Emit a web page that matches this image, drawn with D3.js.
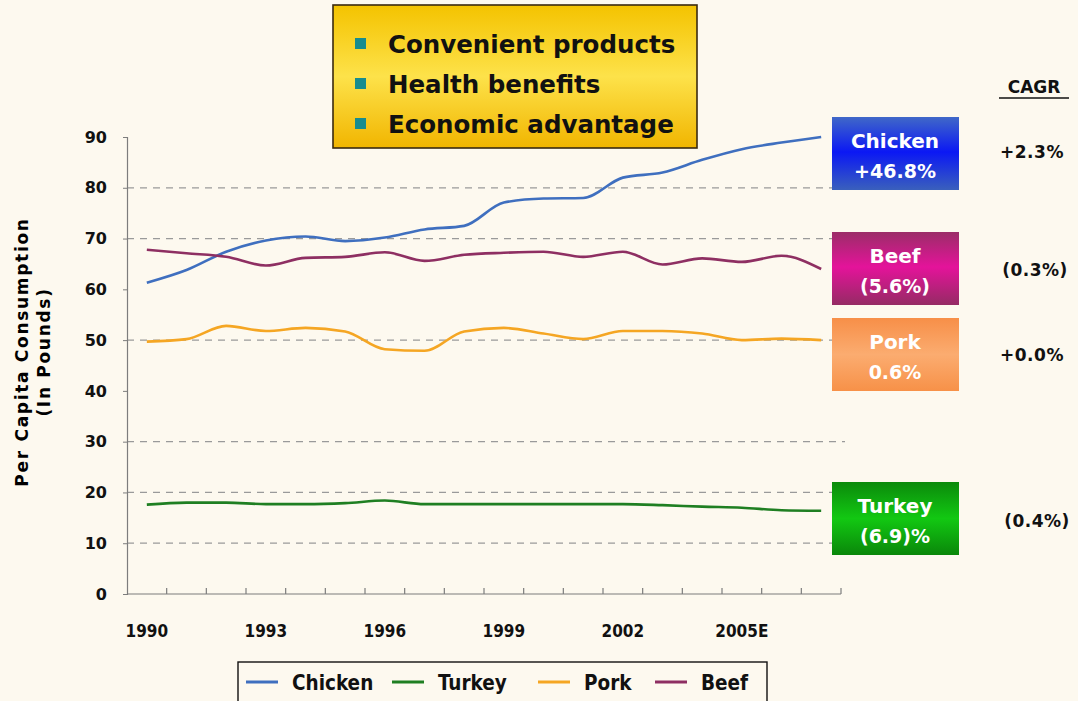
<!DOCTYPE html>
<html>
<head>
<meta charset="utf-8">
<script src="https://cdn.jsdelivr.net/npm/d3@7"></script>
<style>
  html, body { margin: 0; padding: 0; background: #fdf9ef; }
  svg { display: block; }
  .cond { font-family: "DejaVu Sans Condensed", "Liberation Sans Narrow", "Arial Narrow", sans-serif; font-weight: bold; }
  .sans { font-family: "DejaVu Sans", Verdana, "Liberation Sans", Arial, sans-serif; font-weight: bold; }
</style>
</head>
<body>
<script>
// Per capita meat consumption, pounds per person
const years   = [1990, 1991, 1992, 1993, 1994, 1995, 1996, 1997, 1998, 1999, 2000, 2001, 2002, 2003, 2004, 2005, 2006, 2007];
const chicken = [61.3, 63.8, 67.4, 69.6, 70.4, 69.5, 70.2, 71.8, 72.5, 77.1, 77.9, 78.0, 82.0, 83.0, 85.5, 87.6, 88.9, 90.0];
const turkey  = [17.6, 18.0, 18.0, 17.7, 17.7, 17.9, 18.4, 17.7, 17.7, 17.7, 17.7, 17.7, 17.7, 17.5, 17.2, 17.0, 16.5, 16.4];
const pork    = [49.7, 50.2, 52.8, 51.8, 52.4, 51.7, 48.2, 47.9, 51.7, 52.4, 51.3, 50.2, 51.8, 51.8, 51.3, 50.0, 50.3, 50.0];
const beef    = [67.8, 67.1, 66.4, 64.7, 66.2, 66.4, 67.3, 65.6, 66.8, 67.2, 67.4, 66.4, 67.4, 64.9, 66.1, 65.4, 66.6, 64.0];

const yTicks     = [0, 10, 20, 30, 40, 50, 60, 70, 80, 90];
const gridValues = [10, 20, 30, 50, 70, 80];
const labelYears = [1990, 1993, 1996, 1999, 2002, 2005];
const labelText  = ["1990", "1993", "1996", "1999", "2002", "2005E"];

const seriesNames  = ["Chicken", "Turkey", "Pork", "Beef"];
const seriesColors = ["#3f6fbf", "#1f7f22", "#f5a623", "#8e2f62"];

const drivers   = ["Convenient products", "Health benefits", "Economic advantage"];
const boxLines1 = ["Chicken", "Beef", "Pork", "Turkey"];
const boxLines2 = ["+46.8%", "(5.6%)", "0.6%", "(6.9)%"];
const cagrText  = ["+2.3%", "(0.3%)", "+0.0%", "(0.4%)"];

const W = 1078, H = 701;
const svg = d3.select("body").append("svg").attr("width", W).attr("height", H);

const defs = svg.append("defs");
function vgrad(id, stops) {
  const g = defs.append("linearGradient").attr("id", id)
    .attr("x1", 0).attr("y1", 0).attr("x2", 0).attr("y2", 1);
  stops.forEach(([o, c]) => g.append("stop").attr("offset", o).attr("stop-color", c));
}
vgrad("gYellow", [["0%", "#f4c300"], ["50%", "#fde24a"], ["100%", "#f1b500"]]);
vgrad("gChicken", [["0%", "#4068c8"], ["48%", "#0b18f4"], ["100%", "#3a60bc"]]);
vgrad("gBeef", [["0%", "#9b2d68"], ["48%", "#e4139a"], ["100%", "#952b64"]]);
vgrad("gPork", [["0%", "#f78f48"], ["50%", "#fbac70"], ["100%", "#f79148"]]);
vgrad("gTurkey", [["0%", "#0b8a0b"], ["50%", "#12c812"], ["100%", "#0a870a"]]);

const plot = { left: 127, right: 841, top: 137, bottom: 594 };

const x = d3.scaleBand().domain(years).range([plot.left, plot.right]).paddingInner(0).paddingOuter(0);
const y = d3.scaleLinear().domain([0, 90]).range([plot.bottom, plot.top]);
const cx = d => x(d) + x.bandwidth() / 2;

// dashed gridlines
svg.append("g").selectAll("line").data(gridValues).join("line")
  .attr("x1", plot.left).attr("x2", 845)
  .attr("y1", d => y(d)).attr("y2", d => y(d))
  .attr("stroke", "#9a9a9a").attr("stroke-width", 1.2)
  .attr("stroke-dasharray", "7,6");

// y axis
const yAxis = svg.append("g").attr("transform", `translate(${plot.left},0)`)
  .call(d3.axisLeft(y).tickValues(yTicks).tickSize(4).tickPadding(16));
yAxis.select(".domain").attr("stroke", "#7d7d7d").attr("stroke-width", 1.2);
yAxis.selectAll(".tick line").attr("stroke", "#7d7d7d");
yAxis.selectAll(".tick text").attr("class", "sans").attr("font-size", 16).attr("fill", "#111")
  .attr("font-family", null);

// x axis: baseline with ticks between categories
svg.append("line").attr("x1", plot.left).attr("x2", plot.right)
  .attr("y1", plot.bottom).attr("y2", plot.bottom)
  .attr("stroke", "#7d7d7d").attr("stroke-width", 1.2);
svg.append("g").selectAll("line").data(years.slice(1).concat(["end"])).join("line")
  .attr("x1", d => d === "end" ? plot.right : x(d))
  .attr("x2", d => d === "end" ? plot.right : x(d))
  .attr("y1", plot.bottom).attr("y2", plot.bottom - 6)
  .attr("stroke", "#7d7d7d").attr("stroke-width", 1.2);
svg.append("g").selectAll("text").data(labelYears).join("text")
  .attr("class", "cond").attr("font-size", 17)
  .attr("x", d => cx(d)).attr("y", 637)
  .attr("text-anchor", "middle").attr("fill", "#111")
  .text((d, i) => labelText[i]);

// y axis title
const yt = svg.append("g").attr("transform", "translate(0,352) rotate(-90)");
yt.append("text").attr("class", "sans").attr("font-size", 17).attr("letter-spacing", 1.7)
  .attr("x", 0).attr("y", 28).attr("text-anchor", "middle").text("Per Capita Consumption");
yt.append("text").attr("class", "sans").attr("font-size", 17).attr("letter-spacing", 1.7)
  .attr("x", 0).attr("y", 50).attr("text-anchor", "middle").text("(In Pounds)");

// series lines
const allSeries = [chicken, turkey, pork, beef];
const line = d3.line().x((d, i) => cx(years[i])).y(d => y(d)).curve(d3.curveMonotoneX);
svg.append("g").selectAll("path").data(allSeries).join("path")
  .attr("d", d => line(d))
  .attr("fill", "none")
  .attr("stroke", (d, i) => seriesColors[i])
  .attr("stroke-width", 2.6)
  .attr("stroke-linejoin", "round");

// drivers callout box
const db = svg.append("g");
db.append("rect").attr("x", 333).attr("y", 5).attr("width", 364).attr("height", 143)
  .attr("fill", "url(#gYellow)").attr("stroke", "#3a2a10").attr("stroke-width", 1.6);
drivers.forEach((t, i) => {
  const yy = 44 + i * 40;
  db.append("rect").attr("x", 355).attr("y", yy - 6).attr("width", 11).attr("height", 11).attr("fill", "#178c8e");
  db.append("text").attr("class", "sans").attr("font-size", 24.5).attr("x", 388).attr("y", yy + 9)
    .attr("fill", "#111").text(t);
});

// per-series change boxes on the right
const boxFills = ["url(#gChicken)", "url(#gBeef)", "url(#gPork)", "url(#gTurkey)"];
const boxTops = [117, 232, 318, 482];
const bx = svg.append("g");
boxLines1.forEach((t, i) => {
  const top = boxTops[i];
  bx.append("rect").attr("x", 832).attr("y", top).attr("width", 127).attr("height", 73)
    .attr("fill", boxFills[i]);
  bx.append("text").attr("class", "sans").attr("font-size", 20).attr("x", 895).attr("y", top + 31)
    .attr("text-anchor", "middle").attr("fill", "#fff").text(t);
  bx.append("text").attr("class", "sans").attr("font-size", 19).attr("x", 895).attr("y", top + 61)
    .attr("text-anchor", "middle").attr("fill", "#fff").text(boxLines2[i]);
});

// CAGR column
svg.append("text").attr("class", "sans").attr("font-size", 17).attr("x", 1034).attr("y", 93)
  .attr("text-anchor", "middle").attr("fill", "#111").text("CAGR");
svg.append("line").attr("x1", 999).attr("x2", 1069).attr("y1", 98).attr("y2", 98).attr("stroke", "#111").attr("stroke-width", 1.5);
const cagrY = [158, 276, 361, 527];
const cagrX = [1032, 1035, 1032, 1037];
cagrText.forEach((t, i) => {
  svg.append("text").attr("class", "sans").attr("font-size", 17).attr("letter-spacing", 0.5)
    .attr("x", cagrX[i]).attr("y", cagrY[i]).attr("text-anchor", "middle").attr("fill", "#111").text(t);
});

// bottom legend
const lg = svg.append("g");
lg.append("rect").attr("x", 238).attr("y", 662).attr("width", 529).attr("height", 45)
  .attr("fill", "#fdf9ef").attr("stroke", "#111").attr("stroke-width", 1.4);
const legX = [246, 392, 538, 655];
seriesNames.forEach((n, i) => {
  lg.append("line").attr("x1", legX[i]).attr("x2", legX[i] + 32).attr("y1", 682).attr("y2", 682)
    .attr("stroke", seriesColors[i]).attr("stroke-width", 3);
  lg.append("text").attr("class", "cond").attr("font-size", 20.5).attr("x", legX[i] + 46).attr("y", 690)
    .attr("fill", "#111").text(n);
});
</script>
</body>
</html>
